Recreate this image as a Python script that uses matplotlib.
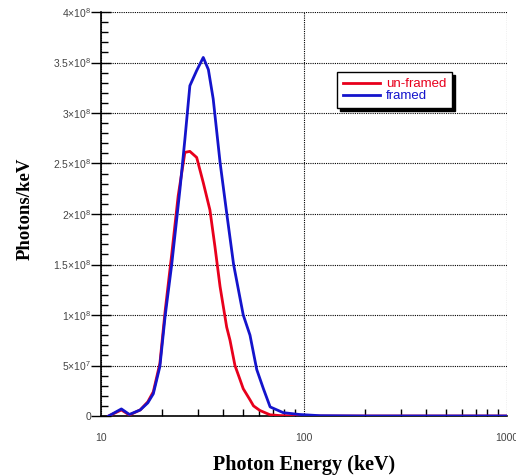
import matplotlib
matplotlib.use("Agg")
import matplotlib.pyplot as plt
from matplotlib.ticker import FixedLocator, NullFormatter, MultipleLocator

# Data
energy_framed = [10.9, 12.6, 13.8, 15.6, 17.0, 18.1, 19.5, 20.7, 22.3, 23.6, 24.5, 25.9,
                 27.4, 29.6, 31.9, 33.8, 35.7, 38.6, 41.6, 45.0, 50.2, 54.2, 58.5, 63.1,
                 68.1, 79.0, 95.0, 120.0, 200.0, 500.0, 1000.0]
photons_framed = [0.0, 7.0e6, 1.5e6, 6.0e6, 1.3e7, 2.2e7, 4.9e7, 9.9e7, 1.5e8, 1.95e8,
                  2.25e8, 2.74e8, 3.27e8, 3.42e8, 3.55e8, 3.43e8, 3.14e8, 2.51e8, 2.01e8,
                  1.5e8, 1.0e8, 8.0e7, 4.6e7, 2.7e7, 9.0e6, 3.3e6, 1.5e6, 0.3e6, 0.0, 0.0,
                  0.0]

energy_unframed = [10.9, 12.6, 13.8, 15.6, 17.0, 18.1, 19.5, 20.7, 22.3, 24.0, 25.9, 27.4,
                   29.6, 31.9, 34.4, 36.4, 38.6, 41.6, 43.2, 45.7, 48.4, 50.2, 54.2, 56.4,
                   60.6, 68.0, 76.0, 100.0, 200.0, 500.0, 1000.0]
photons_unframed = [0.0, 6.0e6, 1.0e6, 6.0e6, 1.4e7, 2.4e7, 5.2e7, 1.04e8, 1.6e8, 2.18e8,
                    2.61e8, 2.62e8, 2.56e8, 2.31e8, 2.04e8, 1.68e8, 1.28e8, 8.8e7, 7.5e7,
                    5.0e7, 3.6e7, 2.7e7, 1.6e7, 1.0e7, 5.5e6, 1.2e6, 0.4e6, 0.0, 0.0, 0.0,
                    0.0]

y_ticks = [0, 5e7, 1e8, 1.5e8, 2e8, 2.5e8, 3e8, 3.5e8, 4e8]
y_tick_labels = ["0", "5×10$^{7}$", "1×10$^{8}$", "1.5×10$^{8}$", "2×10$^{8}$",
                 "2.5×10$^{8}$", "3×10$^{8}$", "3.5×10$^{8}$", "4×10$^{8}$"]
x_ticks = [10, 100, 1000]
x_tick_labels = ["10", "100", "1000"]

plt.rcParams["font.family"] = ["Liberation Sans", "DejaVu Sans"]
plt.rcParams["mathtext.fontset"] = "custom"
plt.rcParams["mathtext.rm"] = "Liberation Sans"
plt.rcParams["mathtext.it"] = "Liberation Sans"

fig = plt.figure(figsize=(5.16, 4.76), dpi=100)
ax = fig.add_axes([101 / 516, 60 / 476, 406 / 516, 404 / 476])

ax.plot(energy_unframed, photons_unframed, color="#e8001c", lw=2.0, label="un-framed", zorder=3)
ax.plot(energy_framed, photons_framed, color="#1414cc", lw=2.0, label="framed", zorder=4)

ax.set_xscale("log")
ax.set_xlim(10, 1000)
ax.set_ylim(0, 4e8)

ax.xaxis.set_major_locator(FixedLocator(x_ticks))
ax.set_xticklabels(x_tick_labels)
ax.xaxis.set_minor_locator(FixedLocator([20, 30, 40, 50, 60, 70, 80, 90,
                                         200, 300, 400, 500, 600, 700, 800, 900]))
ax.xaxis.set_minor_formatter(NullFormatter())
ax.yaxis.set_major_locator(FixedLocator(y_ticks))
ax.set_yticklabels(y_tick_labels)
ax.yaxis.set_minor_locator(MultipleLocator(1e7))

ax.tick_params(axis="y", which="major", direction="inout", length=14, width=1,
               labelsize=7.5, colors="black", labelcolor="#444444", pad=0)
ax.tick_params(axis="y", which="minor", direction="in", length=5, width=1)
ax.tick_params(axis="x", which="major", direction="in", length=0, labelsize=7.5,
               labelcolor="#444444", pad=12)
ax.tick_params(axis="x", which="minor", direction="in", length=5, width=1)

ax.grid(True, which="major", color="black", linestyle=(0, (1, 1)), linewidth=0.8)
ax.grid(False, which="minor")
for s in ["top", "right"]:
    ax.spines[s].set_visible(False)
for s in ["left", "bottom"]:
    ax.spines[s].set_linewidth(1.2)
ax.set_axisbelow(True)

ax.set_xlabel("Photon Energy (keV)", family=["Liberation Serif", "DejaVu Serif"],
              fontweight="bold", fontsize=14.5, labelpad=9)
ax.set_ylabel("Photons/keV", family=["Liberation Serif", "DejaVu Serif"],
              fontweight="bold", fontsize=13.5)
ax.yaxis.set_label_coords(-0.165, 0.513)

leg = ax.legend(loc="upper left", bbox_to_anchor=(236 / 406, 1 - 60 / 404),
                frameon=True, fancybox=False, shadow={"color": "black", "alpha": 1.0},
                fontsize=9.5, handlelength=2.8, handletextpad=0.45, borderpad=0.45,
                labelspacing=0.0, borderaxespad=0)
leg.get_frame().set_edgecolor("black")
leg.get_frame().set_linewidth(1.0)
for txt, line in zip(leg.get_texts(), leg.get_lines()):
    txt.set_color(line.get_color())

fig.savefig("out.png", dpi=100)
